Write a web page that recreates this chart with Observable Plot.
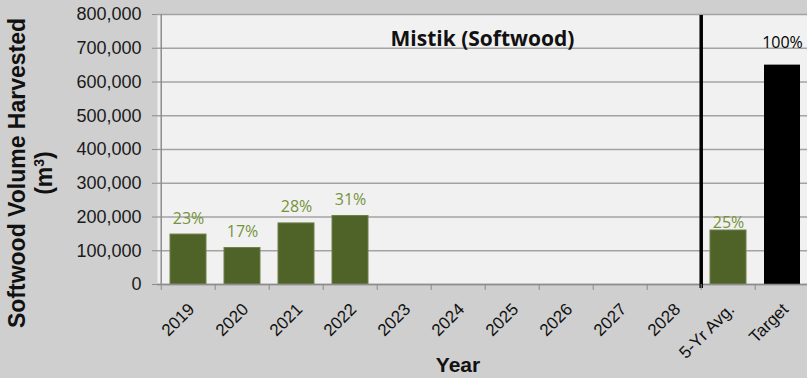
<!DOCTYPE html>
<html>
<head>
<meta charset="utf-8">
<script src="https://cdn.jsdelivr.net/npm/d3@7"></script>
<script src="https://cdn.jsdelivr.net/npm/@observablehq/plot@0.6"></script>
<style>
  html, body { margin: 0; padding: 0; background: #cfcfcf; }
  #chart { width: 807px; height: 378px; overflow: hidden; }
  svg { display: block; }
</style>
</head>
<body>
<div id="chart"></div>
<script>
const categories = ["2019", "2020", "2021", "2022", "2023", "2024", "2025", "2026", "2027", "2028", "5-Yr Avg.", "Target"];
const volumes = [148000, 108000, 181000, 203000, null, null, null, null, null, null, 160000, 650000];
const percentLabels = ["23%", "17%", "28%", "31%", "", "", "", "", "", "", "25%", "100%"];
const yTicks = [0, 100000, 200000, 300000, 400000, 500000, 600000, 700000, 800000];
const chartTitle = "Mistik (Softwood)";

const data = categories.map((c, i) => ({cat: c, v: volumes[i], label: percentLabels[i]}));
const years = data.filter(d => d.v != null && d.cat !== "Target" && d.cat !== "5-Yr Avg.");
const avg = data.filter(d => d.cat === "5-Yr Avg.");
const target = data.filter(d => d.cat === "Target");

const x0 = 157, x1 = 812;
const half = (x1 - x0) / categories.length / 2;

const plot = Plot.plot({
  width: 807,
  height: 378,
  marginTop: 14,
  marginBottom: 94,
  marginLeft: 157,
  marginRight: 0,
  style: {background: "transparent", fontFamily: "Arial, 'Liberation Sans', sans-serif"},
  x: {domain: categories, range: [x0, x1], paddingInner: 0.34, paddingOuter: 0.17, label: null},
  y: {domain: [0, 800000], label: null},
  marks: [
    Plot.frame({fill: "#f1f1f1", stroke: null}),
    Plot.ruleY(yTicks, {stroke: "#a3a3a3", strokeWidth: 1.5}),
    Plot.barY(data.filter(d => d.v != null && d.cat !== "Target"), {x: "cat", y: "v", fill: "#4f6228", stroke: "#6f8048", strokeWidth: 1}),
    Plot.barY(target, {x: "cat", y: "v", fill: "#000000"}),
    Plot.text(years, {x: "cat", y: "v", text: "label", lineAnchor: "bottom", dy: -11, fill: "#76933c", fontSize: 16, fontFamily: "'Open Sans', sans-serif"}),
    Plot.text(avg, {x: "cat", y: "v", text: "label", lineAnchor: "bottom", dy: -3, fill: "#76933c", fontSize: 16, fontFamily: "'Open Sans', sans-serif"}),
    Plot.text(target, {x: "cat", y: "v", text: "label", lineAnchor: "bottom", dy: -17, fill: "#000000", fontSize: 16, fontFamily: "'Open Sans', sans-serif"}),
    Plot.ruleX(["2019"], {dx: -half, y1: 0, y2: 800000, stroke: "#8c8c8c", strokeWidth: 1.5}),
    Plot.ruleY([0], {stroke: "#8c8c8c", strokeWidth: 1.5}),
    Plot.ruleX(["5-Yr Avg."], {dx: -half, y1: -12000, y2: 797000, stroke: "#000000", strokeWidth: 3.5}),
    Plot.axisY({ticks: yTicks, tickFormat: d => d3.format(",")(d), tickSize: 5, tickPadding: 11, stroke: "#8c8c8c", fontSize: 18, fill: "#1a1a1a", label: null}),
    Plot.axisX({ticks: categories, tickSize: 6, dx: -half, text: null, stroke: "#8c8c8c", label: null}),
    Plot.text(categories, {x: d => d, y: () => 0, text: d => d, rotate: -45, textAnchor: "end", lineAnchor: "middle", dx: 3, dy: 22, fontSize: 17, fill: "#111"}),
    Plot.text([chartTitle], {frameAnchor: "top", dy: 17, fontSize: 21, fontWeight: "bold", fontFamily: "'Open Sans', sans-serif", fill: "#111"})
  ]
});

const svg = d3.select(plot);

// axis titles
svg.append("text")
  .attr("transform", "translate(17,173) rotate(-90)")
  .attr("text-anchor", "middle")
  .attr("dy", "0.35em")
  .attr("font-size", 23).attr("font-weight", "bold").attr("fill", "#111")
  .text("Softwood Volume Harvested");
const t2 = svg.append("text")
  .attr("transform", "translate(44,173) rotate(-90)")
  .attr("text-anchor", "middle")
  .attr("dy", "0.35em")
  .attr("font-size", 23).attr("font-weight", "bold").attr("fill", "#111");
t2.append("tspan").text("(m");
t2.append("tspan").attr("baseline-shift", "super").attr("font-size", 14).text("3");
t2.append("tspan").text(")");
svg.append("text")
  .attr("x", 458).attr("y", 372)
  .attr("text-anchor", "middle")
  .attr("font-size", 21).attr("font-weight", "bold").attr("fill", "#111")
  .text("Year");

document.getElementById("chart").appendChild(plot);
</script>
</body>
</html>
